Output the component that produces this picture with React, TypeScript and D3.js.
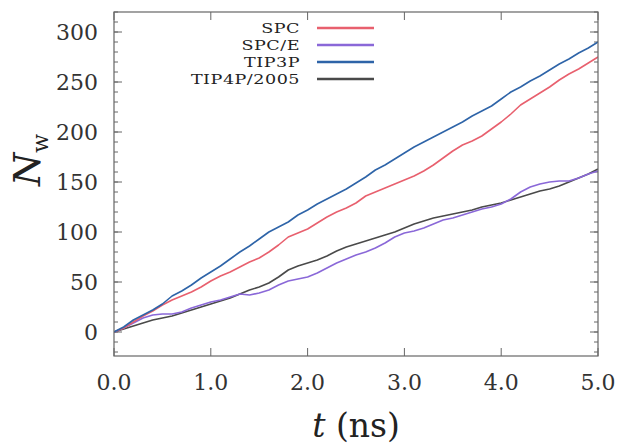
import React from "react";
import * as d3 from "d3";

const times: number[] = d3.range(0, 51).map((i) => i / 10);
const seriesNames = ["SPC", "SPC/E", "TIP3P", "TIP4P/2005"];
const seriesColors = ["#e8606e", "#8a68d8", "#2e64a8", "#4a4a4a"];

const spc = [0, 4, 10, 16, 21, 27, 32, 36, 40, 45, 51, 56, 60, 65, 70, 74, 80, 87, 95, 99, 103, 109, 115, 120, 124, 129, 136, 140, 144, 148, 152, 156, 161, 167, 174, 181, 187, 191, 196, 203, 210, 218, 227, 233, 239, 245, 252, 258, 263, 269, 275];
const spce = [0, 4, 9, 14, 17, 18, 18, 20, 24, 27, 30, 32, 35, 38, 37, 39, 42, 47, 51, 53, 55, 59, 64, 69, 73, 77, 80, 84, 89, 95, 99, 101, 104, 108, 112, 114, 117, 120, 123, 125, 128, 133, 140, 145, 148, 150, 151, 151, 154, 158, 161];
const tip3p = [0, 5, 12, 17, 22, 28, 36, 41, 47, 54, 60, 66, 73, 80, 86, 93, 100, 105, 110, 117, 122, 128, 133, 138, 143, 149, 155, 162, 167, 173, 179, 185, 190, 195, 200, 205, 210, 216, 221, 226, 233, 240, 245, 251, 256, 262, 268, 273, 279, 284, 290];
const tip4p = [0, 3, 6, 9, 12, 14, 16, 19, 22, 25, 28, 31, 34, 38, 42, 45, 49, 55, 62, 66, 69, 72, 76, 81, 85, 88, 91, 94, 97, 100, 104, 108, 111, 114, 116, 118, 120, 122, 125, 127, 129, 132, 135, 138, 141, 143, 146, 150, 154, 158, 163];
const seriesValues = [spc, spce, tip3p, tip4p];

const xTicks = [0, 1, 2, 3, 4, 5];
const yTicks = [0, 50, 100, 150, 200, 250, 300];
const yMinorTicks = d3.range(-20, 321, 10);

const W = 619;
const H = 444;
const L = 114, R = 598, T = 12, B = 356;
const serif = "'DejaVu Serif', serif";

export default function App() {
  const x = d3.scaleLinear().domain([0, 5]).range([L, R]);
  const y = d3.scaleLinear().domain([-24, 320]).range([B, T]);
  const line = d3
    .line<number>()
    .x((_, i) => x(times[i]))
    .y((d) => y(d));
  const axisColor = "#666";
  const order = [3, 1, 0, 2];
  return (
    <svg width={W} height={H} style={{ position: "absolute", left: 0, top: 0, background: "#fff" }}>
      <rect x={0} y={0} width={W} height={H} fill="#fff" />
      {yMinorTicks.map((v) => (
        <g key={"m" + v}>
          <line x1={L} x2={L + 4} y1={y(v)} y2={y(v)} stroke={axisColor} strokeWidth={1} />
          <line x1={R} x2={R - 4} y1={y(v)} y2={y(v)} stroke={axisColor} strokeWidth={1} />
        </g>
      ))}
      {yTicks.map((v) => (
        <g key={"y" + v}>
          <line x1={L} x2={L + 8} y1={y(v)} y2={y(v)} stroke={axisColor} strokeWidth={1} />
          <line x1={R} x2={R - 8} y1={y(v)} y2={y(v)} stroke={axisColor} strokeWidth={1} />
          <text x={L - 16} y={y(v)} dy="0.36em" textAnchor="end" fontFamily={serif} fontSize={22} fill="#333">
            {v}
          </text>
        </g>
      ))}
      {xTicks.map((v) => (
        <g key={"x" + v}>
          <line x1={x(v)} x2={x(v)} y1={B} y2={B - 8} stroke={axisColor} strokeWidth={1} />
          <line x1={x(v)} x2={x(v)} y1={T} y2={T + 8} stroke={axisColor} strokeWidth={1} />
          <text x={x(v)} y={B + 34} textAnchor="middle" fontFamily={serif} fontSize={22} fill="#333">
            {v.toFixed(1)}
          </text>
        </g>
      ))}
      <defs>
        <clipPath id="clip">
          <rect x={L} y={T} width={R - L} height={B - T} />
        </clipPath>
      </defs>
      <g clipPath="url(#clip)">
        {order.map((i) => (
          <path key={seriesNames[i]} d={line(seriesValues[i]) || ""} fill="none" stroke={seriesColors[i]} strokeWidth={1.6} strokeLinejoin="round" />
        ))}
      </g>
      <rect x={L} y={T} width={R - L} height={B - T} fill="none" stroke={axisColor} strokeWidth={1.2} />
      {seriesNames.map((name, i) => (
        <g key={"lg" + name}>
          <text
            transform={`translate(300, ${28 + i * 17}) scale(1.3, 1)`}
            dy="0.35em"
            textAnchor="end"
            fontFamily={serif}
            fontSize={13.5}
            letterSpacing={0.4}
            fill="#222"
          >
            {name}
          </text>
          <line x1={317} x2={374} y1={28 + i * 17} y2={28 + i * 17} stroke={seriesColors[i]} strokeWidth={2.5} />
        </g>
      ))}
      <text transform={`translate(40, 160) rotate(-90)`} textAnchor="middle" fontFamily={serif} fontSize={38} fill="#222">
        <tspan fontStyle="italic">N</tspan>
        <tspan fontSize={22} dy={8}>w</tspan>
      </text>
      <text x={(L + R) / 2} y={437} textAnchor="middle" fontFamily={serif} fontSize={33} fill="#222">
        <tspan fontStyle="italic">t</tspan>
        <tspan> (ns)</tspan>
      </text>
    </svg>
  );
}
